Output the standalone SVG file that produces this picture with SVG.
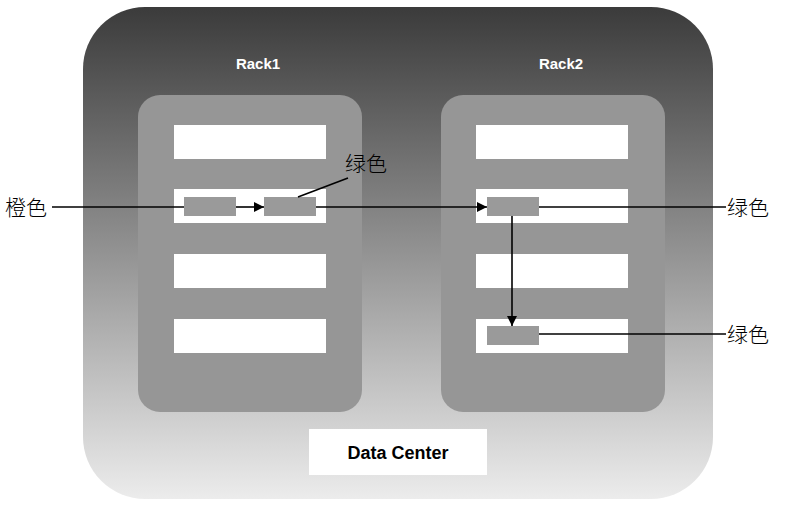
<svg xmlns="http://www.w3.org/2000/svg" width="785" height="506" viewBox="0 0 785 506">
<defs>
<linearGradient id="bg" x1="0" y1="0" x2="0" y2="1">
<stop offset="0" stop-color="#3b3b3b"/>
<stop offset="0.45" stop-color="#8a8a8a"/>
<stop offset="1" stop-color="#ececec"/>
</linearGradient>
<marker id="ah" viewBox="0 0 10 10" refX="10" refY="5" markerWidth="10" markerHeight="10" markerUnits="userSpaceOnUse" orient="auto">
<path d="M0,0 L10,5 L0,10 z" fill="#000"/>
</marker>
<style>
.rack{fill:#969696}
.row{fill:#fff}
.blk{fill:#9a9a9a}
.rl{font-family:"Liberation Sans",Arial,sans-serif;font-weight:bold;font-size:15px;fill:#fff;text-anchor:middle}
.cn{font-family:"Noto Sans CJK SC",sans-serif;font-weight:300;font-size:21px;fill:#000}
.ln{stroke:#000;stroke-width:1.6;fill:none}
</style>
</defs>
<rect width="785" height="506" fill="#fff"/>
<g id="datacenter">
<rect x="83" y="7" width="630" height="492" rx="62" fill="url(#bg)"/>
<rect x="309" y="429" width="178" height="46" fill="#fff"/>
<text x="398" y="459" font-family="Liberation Sans,Arial,sans-serif" font-weight="bold" font-size="18" text-anchor="middle">Data Center</text>
</g>
<g id="rack1">
<text class="rl" x="258" y="69">Rack1</text>
<rect class="rack" x="138" y="95" width="224" height="317" rx="22"/>
<rect class="row" x="174" y="125" width="152" height="34"/>
<rect class="row" x="174" y="189" width="152" height="34"/>
<rect class="row" x="174" y="254" width="152" height="34"/>
<rect class="row" x="174" y="319" width="152" height="34"/>
<rect class="blk" x="184" y="197" width="52" height="19"/>
<rect class="blk" x="264" y="197" width="52" height="19"/>
</g>
<g id="rack2">
<text class="rl" x="561" y="69">Rack2</text>
<rect class="rack" x="441" y="95" width="224" height="317" rx="22"/>
<rect class="row" x="476" y="125" width="152" height="34"/>
<rect class="row" x="476" y="189" width="152" height="34"/>
<rect class="row" x="476" y="254" width="152" height="34"/>
<rect class="row" x="476" y="319" width="152" height="34"/>
<rect class="blk" x="487" y="197" width="52" height="19"/>
<rect class="blk" x="487" y="326" width="52" height="19"/>
</g>
<g id="labels">
<text class="cn" x="5" y="215">橙色</text>
<text class="cn" x="345" y="171">绿色</text>
<text class="cn" x="727" y="215">绿色</text>
<text class="cn" x="727" y="342">绿色</text>
</g>
<g id="connectors">
<line class="ln" x1="52" y1="207" x2="184" y2="207"/>
<line class="ln" x1="236" y1="207" x2="264" y2="207" marker-end="url(#ah)"/>
<line class="ln" x1="316" y1="207" x2="487" y2="207" marker-end="url(#ah)"/>
<line class="ln" x1="512" y1="216" x2="512" y2="326" marker-end="url(#ah)"/>
<line class="ln" x1="539" y1="207" x2="726" y2="207"/>
<line class="ln" x1="539" y1="334" x2="726" y2="334"/>
<line class="ln" x1="298" y1="197" x2="348" y2="178"/>
</g>
</svg>
